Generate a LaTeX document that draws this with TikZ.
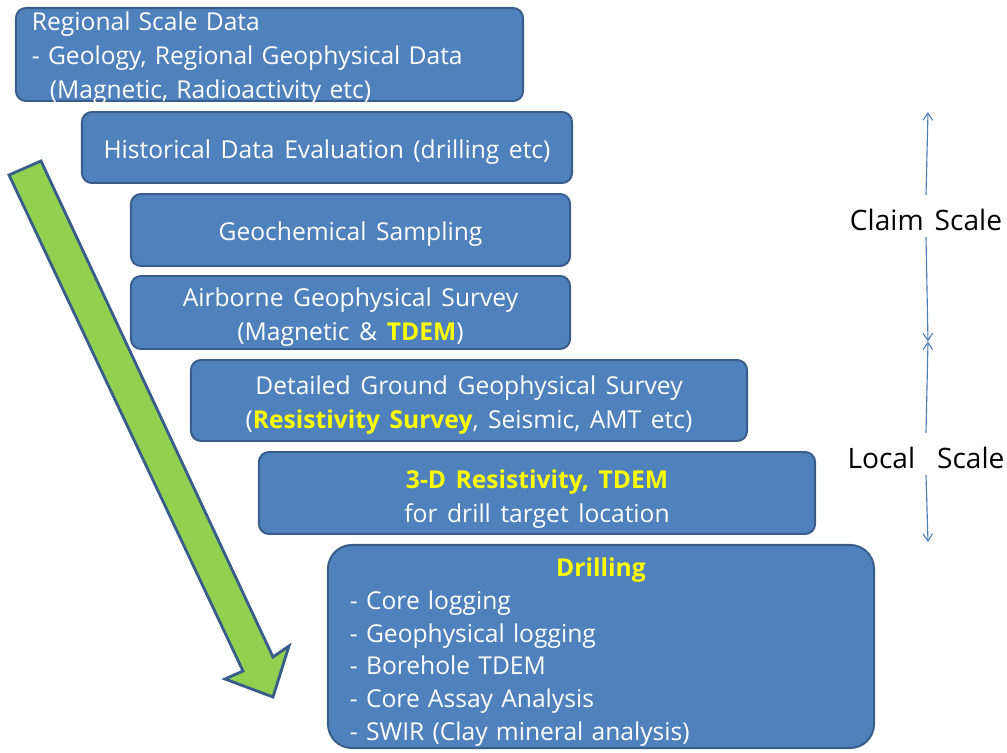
\documentclass[tikz,border=0pt]{standalone}
\usepackage{fontspec}
\setmainfont[WordSpace=1.5]{Open Sans}
\usepackage{tikz}
\usetikzlibrary{positioning,arrows.meta}
\definecolor{stageblue}{HTML}{4F81BD}
\definecolor{stageedge}{HTML}{385D8A}
\definecolor{flowgreen}{HTML}{92D050}
\definecolor{scaleblue}{HTML}{4A7EBB}
\definecolor{hiyellow}{HTML}{FFFF00}
\newcommand{\hl}[1]{\textcolor{hiyellow}{\bfseries #1}}
\newcommand{\sink}[1]{\rule{0pt}{#1}}

\begin{document}
\begin{tikzpicture}[x=0.025cm, y=-0.025cm,
  every node/.append style={font=\fontsize{17.5}{24.2}\selectfont},
  stage/.style={draw=stageedge, fill=stageblue, line width=1.4pt, rounded corners=2.5mm,
    text=white, align=center, inner sep=0pt},
  scalearr/.style={draw=scaleblue, line width=0.8pt, -{Straight Barb[length=1.8mm,width=2.4mm]}},
  scalelbl/.style={inner sep=0pt, font=\fontsize{20}{22}\selectfont}
]
\useasboundingbox (0,0) rectangle (1007,753);

% green progress arrow
\draw[draw=stageedge, fill=flowgreen, line width=2pt, line join=miter]
  (9,175) -- (41,161) -- (273,657) -- (289,646) -- (273,697) -- (225,679) -- (243,671) -- cycle;

% exploration stages
\node[stage, align=left, text width=11.875cm, minimum width=12.675cm, minimum height=2.325cm] (regional) at (269.5,54.5)
  {\sink{5.2mm}Regional Scale Data\\- Geology, Regional Geophysical Data\\\hspace*{0.45cm}\raisebox{0pt}[\height][0pt]{(Magnetic, Radioactivity etc)}};
\node[stage, minimum width=12.25cm, minimum height=1.775cm] (historical) at (327,147.5)
  {\sink{6.8mm}Historical Data Evaluation (drilling etc)};
\node[stage, minimum width=10.975cm, minimum height=1.8cm] (geochem) at (350.5,230)
  {\sink{6.5mm}Geochemical Sampling};
\node[stage, minimum width=10.975cm, minimum height=1.825cm] (airborne) at (350.5,312.5)
  {\sink{7.2mm}Airborne Geophysical Survey\\(Magnetic \& \hl{TDEM})};
\node[stage, minimum width=13.9cm, minimum height=2.025cm] (ground) at (469,400.5)
  {\sink{7.2mm}Detailed Ground Geophysical Survey\\(\hl{Resistivity Survey}, Seismic, AMT etc)};
\node[stage, minimum width=13.9cm, minimum height=2.05cm] (target) at (537,493)
  {\sink{7.6mm}\hl{3-D Resistivity, TDEM}\\for drill target location};
\node[stage, rounded corners=6mm, align=left, text width=12.55cm, minimum width=13.65cm, minimum height=5.075cm,
  font=\fontsize{17.5}{23.3}\selectfont] (drilling) at (601,646.5)
  {\makebox[12.55cm]{\sink{7.5mm}\hl{Drilling}}\\- Core logging\\- Geophysical logging\\- Borehole TDEM\\- Core Assay Analysis\\- SWIR (Clay mineral analysis)};

% scale markers
\coordinate (claimtop) at (928,112);
\coordinate (scalemid) at (928,341.5);
\coordinate (localbot) at (928,542);
\node[scalelbl] (claim) at (926,220) {Claim Scale};
\node[scalelbl] (local) at (926,458) {Local\ \ Scale};
\draw[scalearr] ([yshift=3.5mm]claim.north) -- (claimtop);
\draw[scalearr] ([yshift=-1.5mm]claim.south) -- (scalemid);
\draw[scalearr] ([yshift=3.5mm]local.north) -- (scalemid);
\draw[scalearr] ([yshift=-1.5mm]local.south) -- (localbot);
\end{tikzpicture}
\end{document}
